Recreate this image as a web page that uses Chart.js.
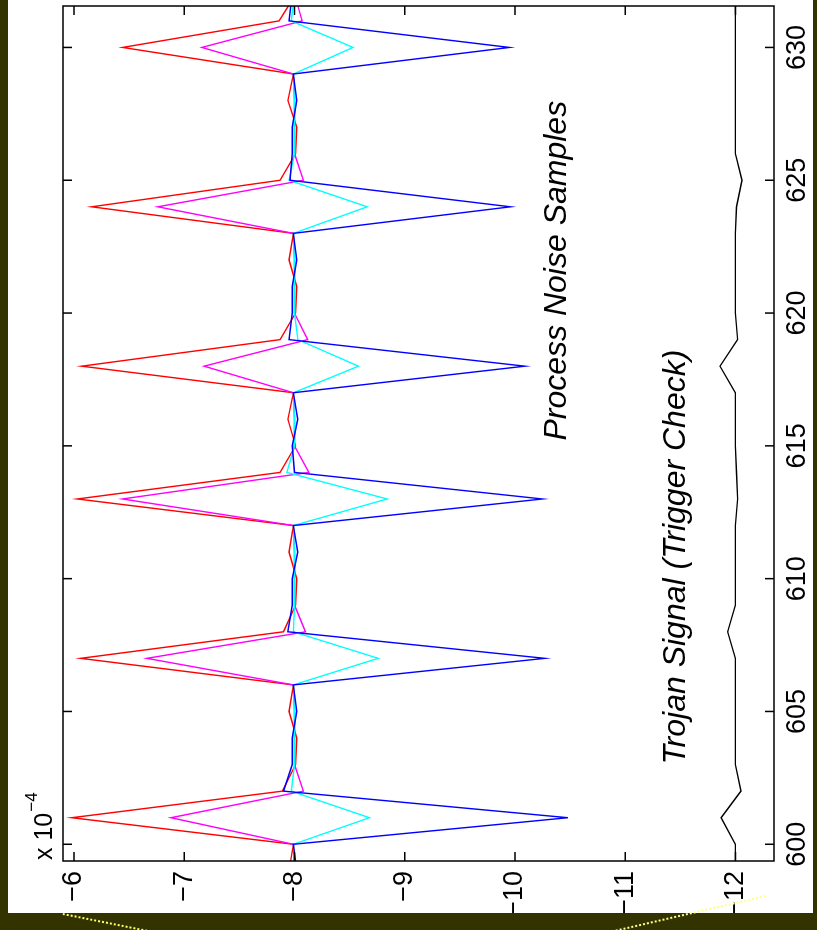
<!DOCTYPE html>
<html lang="en">

<head>
  <meta charset="UTF-8" />
  <script src="https://cdn.jsdelivr.net/npm/chart.js"></script>
  <title>Process Noise Samples</title>
  <style>
    html, body { margin: 0; padding: 0; }
    body {
      width: 817px; height: 930px; overflow: hidden; position: relative;
      background: #333300;
    }
    .folha { position: absolute; left: 8px; top: 0; width: 805px; height: 913px; background: #fff; }
    .girado {
      position: absolute; left: 0; top: 0; width: 913px; height: 805px;
      transform-origin: 0 0; transform: translate(8px, 913px) rotate(-90deg);
    }
    .pontilhado { position: absolute; height: 0; border-top: 2px dotted #ffff66; transform-origin: 0 0; }
  </style>
</head>

<body>
  <div class="folha"></div>
  <div class="girado">
    <canvas id="grafico" width="913" height="805"></canvas>
  </div>
  <div class="pontilhado" style="left:63px; top:913px; width:110px; transform: rotate(11.3deg);"></div>
  <div class="pontilhado" style="left:766px; top:897px; width:170px; transform: rotate(167deg); border-top-color:#ffff88;"></div>
</body>

</html>

<script>
  // amostras (eixo x) e valores em unidades de 1e-4
  const amostras = [599, 600, 601, 602, 603, 604, 605, 606, 607, 608, 609, 610, 611, 612, 613, 614, 615, 616,
    617, 618, 619, 620, 621, 622, 623, 624, 625, 626, 627, 628, 629, 630, 631, 632];

  const azul = [-8.02, -7.99, -10.48, -7.90, -7.98, -7.98, -8.02, -7.99, -10.27, -7.94, -7.98, -7.98, -8.03, -7.99,
    -10.25, -8.00, -7.98, -8.03, -7.99, -10.09, -7.95, -7.98, -7.98, -8.02, -7.99, -9.96, -7.96, -7.98, -7.98,
    -8.02, -7.99, -9.95, -7.95, -7.98];

  const ciano = [-8.00, -7.99, -8.68, -7.97, -8.00, -8.00, -8.00, -7.99, -8.76, -7.99, -8.00, -8.00, -8.00, -7.99,
    -8.84, -7.93, -8.00, -8.00, -7.99, -8.58, -8.03, -8.00, -8.00, -8.00, -7.99, -8.66, -7.95, -8.00, -8.00,
    -8.00, -7.99, -8.53, -7.97, -8.00];

  const magenta = [-8.00, -7.99, -6.88, -8.08, -8.00, -8.00, -8.00, -7.99, -6.66, -8.10, -8.00, -8.00, -8.00, -7.99,
    -6.44, -8.13, -8.00, -8.00, -7.99, -7.18, -8.12, -8.00, -8.00, -8.00, -7.99, -6.76, -8.08, -8.00, -8.00,
    -8.00, -7.99, -7.16, -8.07, -8.00];

  const vermelho = [-7.95, -7.99, -5.98, -7.89, -8.01, -8.02, -7.95, -7.99, -6.06, -7.90, -8.01, -8.02, -7.95, -7.99,
    -6.03, -7.87, -8.01, -7.94, -7.99, -6.07, -7.87, -8.01, -8.02, -7.95, -7.99, -6.16, -7.87, -8.01, -8.02,
    -7.94, -7.99, -6.44, -7.86, -8.01];

  const trojan = [-12.00, -12.00, -11.87, -12.05, -12.00, -12.00, -12.00, -12.00, -12.00, -11.93, -12.00, -12.00,
    -12.00, -12.00, -12.02, -12.01, -12.00, -12.00, -12.00, -11.86, -12.02, -12.00, -12.00, -12.00, -12.00, -12.01,
    -12.06, -12.00, -12.00, -12.00, -12.00, -12.00, -12.00, -12.00];

  const ticksX = [600, 605, 610, 615, 620, 625, 630];
  const ticksY = [-12, -11, -10, -9, -8, -7, -6];

  const fonte = '"Liberation Sans", Arial, Helvetica, sans-serif';

  function pares(valores) {
    return amostras.map((a, i) => ({ x: a, y: valores[i] }));
  }

  function serie(nome, cor, valores) {
    return {
      label: nome,
      data: pares(valores),
      borderColor: cor,
      backgroundColor: cor,
      borderWidth: 1.4,
      pointRadius: 0,
      tension: 0,
      fill: false,
    };
  }

  // moldura, ticks para dentro e textos
  const moldura = {
    id: "moldura",
    afterDraw(chart) {
      const ctx = chart.ctx;
      const a = chart.chartArea;
      const x = chart.scales.x;
      const y = chart.scales.y;
      const tam = 9;

      ctx.save();
      ctx.strokeStyle = "#000";
      ctx.lineWidth = 1.5;
      ctx.strokeRect(a.left, a.top, a.right - a.left, a.bottom - a.top);

      ctx.beginPath();
      ticksX.forEach((v) => {
        const px = x.getPixelForValue(v);
        ctx.moveTo(px, a.bottom); ctx.lineTo(px, a.bottom - tam);
        ctx.moveTo(px, a.top); ctx.lineTo(px, a.top + tam);
      });
      ticksY.forEach((v) => {
        const py = y.getPixelForValue(v);
        ctx.moveTo(a.left, py); ctx.lineTo(a.left + tam, py);
        ctx.moveTo(a.right, py); ctx.lineTo(a.right - tam, py);
      });
      ctx.stroke();

      ctx.fillStyle = "#000";
      ctx.textAlign = "left";
      ctx.textBaseline = "alphabetic";

      // multiplicador do eixo y
      ctx.font = "25px " + fonte;
      ctx.fillText("x 10", a.left + 1, a.top - 11);
      const w = ctx.measureText("x 10").width;
      ctx.font = "17px " + fonte;
      ctx.fillText("\u22124", a.left + 1 + w + 1, a.top - 26);

      ctx.font = "italic 32px " + fonte;
      ctx.fillText("Process Noise Samples", x.getPixelForValue(615.2), y.getPixelForValue(-10.46));
      ctx.fillText("Trojan Signal (Trigger Check)", x.getPixelForValue(603.0), y.getPixelForValue(-11.54));
      ctx.restore();
    },
  };

  const config = {
    type: "line",
    data: {
      datasets: [
        serie("azul", "#0000ff", azul),
        serie("ciano", "#00ffff", ciano),
        serie("magenta", "#ff00ff", magenta),
        serie("vermelho", "#ff0000", vermelho),
        serie("trojan", "#000000", trojan),
      ],
    },
    options: {
      responsive: false,
      animation: false,
      devicePixelRatio: 1,
      layout: { padding: { left: 0, right: 6, top: 55, bottom: 0 } },
      scales: {
        x: {
          type: "linear",
          min: 599.37,
          max: 631.56,
          afterBuildTicks: (s) => { s.ticks = ticksX.map((v) => ({ value: v })); },
          afterFit: (s) => { s.height = 39; },
          grid: { display: false, drawTicks: false },
          border: { display: false },
          ticks: {
            color: "#000",
            padding: 7,
            maxRotation: 0,
            font: { family: fonte, size: 27 },
            callback: (v) => String(v),
          },
        },
        y: {
          min: -12.35,
          max: -5.9,
          afterBuildTicks: (s) => { s.ticks = ticksY.map((v) => ({ value: v })); },
          afterFit: (s) => { s.width = 52; },
          grid: { display: false, drawTicks: false },
          border: { display: false },
          ticks: {
            color: "#000",
            padding: 10,
            font: { family: fonte, size: 27 },
            callback: (v) => String(v).replace("-", "\u2212"),
          },
        },
      },
      plugins: {
        legend: { display: false },
        tooltip: { enabled: false },
      },
    },
    plugins: [moldura],
  };

  let myChart = new Chart(document.getElementById("grafico").getContext("2d"), config);
</script>
